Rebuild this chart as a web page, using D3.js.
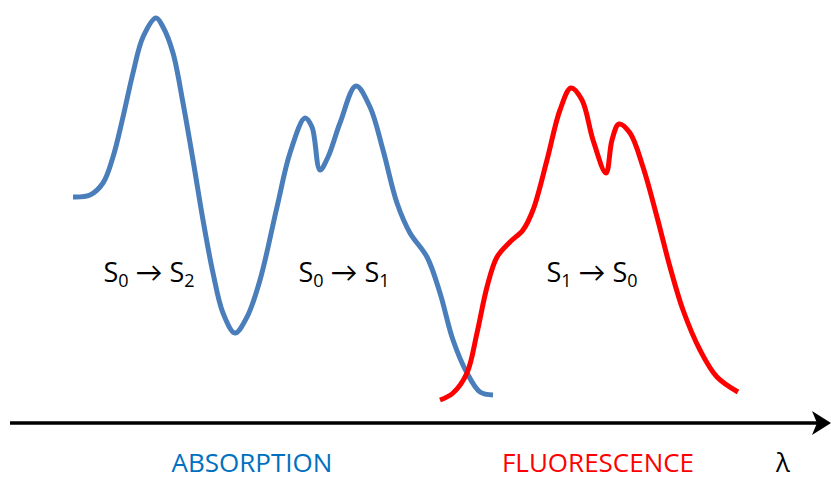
<!DOCTYPE html>
<html>
<head>
<meta charset="utf-8">
<script src="https://cdn.jsdelivr.net/npm/d3@7"></script>
<style>
  html, body { margin: 0; padding: 0; background: #fff; overflow: hidden; }
  svg text { font-family: "Open Sans", Lato, sans-serif; }
</style>
</head>
<body>
<div id="chart"></div>
<script>
// wavelength (arbitrary units) and intensity
const absorptionWavelength = [73, 90, 103, 113, 123, 133, 143, 156, 163, 173, 183, 193, 203, 213, 223, 235, 247, 260, 277, 290, 305, 312, 320, 328, 340, 356, 370, 383, 397, 410, 427, 440, 453, 467, 480, 493];
const absorptionIntensity = [226, 228, 240, 266, 306, 350, 386, 405, 396, 370, 320, 263, 203, 150, 110, 90, 106, 143, 216, 270, 305, 296, 253, 266, 300, 337, 316, 273, 220, 190, 166, 130, 83, 50, 31, 28];

const fluorescenceWavelength = [440, 453, 467, 477, 487, 497, 510, 523, 533, 547, 560, 571, 582, 593, 606, 612, 619, 630, 643, 657, 670, 683, 700, 717, 738];
const fluorescenceIntensity = [23, 30, 50, 90, 136, 166, 181, 193, 213, 263, 313, 335, 323, 283, 250, 283, 299, 290, 256, 206, 156, 113, 73, 46, 31];

const transitionLabels = [
  { from: '0', to: '2', at: 149 },
  { from: '0', to: '1', at: 344 },
  { from: '1', to: '0', at: 592 },
];
const bandLabels = [
  { text: 'ABSORPTION', at: 252, color: '#0070c0' },
  { text: 'FLUORESCENCE', at: 598, color: '#ff0000' },
  { text: 'λ', at: 783, color: '#000' },
];

const width = 831;
const height = 480;
const axisY = 423;

const svg = d3.select('#chart')
  .append('svg')
  .attr('width', width)
  .attr('height', height);

const x = d3.scaleLinear()
  .domain([0, 831])
  .range([0, width]);

const y = d3.scaleLinear()
  .domain([0, 423])
  .range([axisY, 0]);

const line = d3.line()
  .x(d => x(d[0]))
  .y(d => y(d[1]))
  .curve(d3.curveCatmullRom.alpha(0.5));

const absorption = d3.zip(absorptionWavelength, absorptionIntensity);
const fluorescence = d3.zip(fluorescenceWavelength, fluorescenceIntensity);

svg.append('path')
  .datum(absorption)
  .attr('fill', 'none')
  .attr('stroke', '#4a7ebb')
  .attr('stroke-width', 5)
  .attr('stroke-linejoin', 'round')
  .attr('d', line);

svg.append('path')
  .datum(fluorescence)
  .attr('fill', 'none')
  .attr('stroke', '#ff0000')
  .attr('stroke-width', 5)
  .attr('stroke-linejoin', 'round')
  .attr('d', line);

// wavelength axis with arrow
svg.append('line')
  .attr('x1', 10)
  .attr('x2', 818)
  .attr('y1', axisY)
  .attr('y2', axisY)
  .attr('stroke', '#000')
  .attr('stroke-width', 3.5);

svg.append('path')
  .attr('d', `M831,${axisY} L812,${axisY - 12} L817,${axisY} L812,${axisY + 12} Z`)
  .attr('fill', '#000');

// transition labels
const t = svg.append('g')
  .selectAll('text')
  .data(transitionLabels)
  .enter()
  .append('text')
  .attr('x', d => d.at)
  .attr('y', 282)
  .attr('text-anchor', 'middle')
  .attr('font-size', 27)
  .attr('fill', '#000');

t.append('tspan').text('S');
t.append('tspan').attr('font-size', 18).attr('dy', 5).text(d => d.from);
t.append('tspan').attr('dy', -5).text(' → S');
t.append('tspan').attr('font-size', 18).attr('dy', 5).text(d => d.to);

svg.append('g')
  .selectAll('text')
  .data(bandLabels)
  .enter()
  .append('text')
  .attr('x', d => d.at)
  .attr('y', 472)
  .attr('text-anchor', 'middle')
  .attr('font-size', 26)
  .attr('fill', d => d.color)
  .text(d => d.text);
</script>
</body>
</html>
